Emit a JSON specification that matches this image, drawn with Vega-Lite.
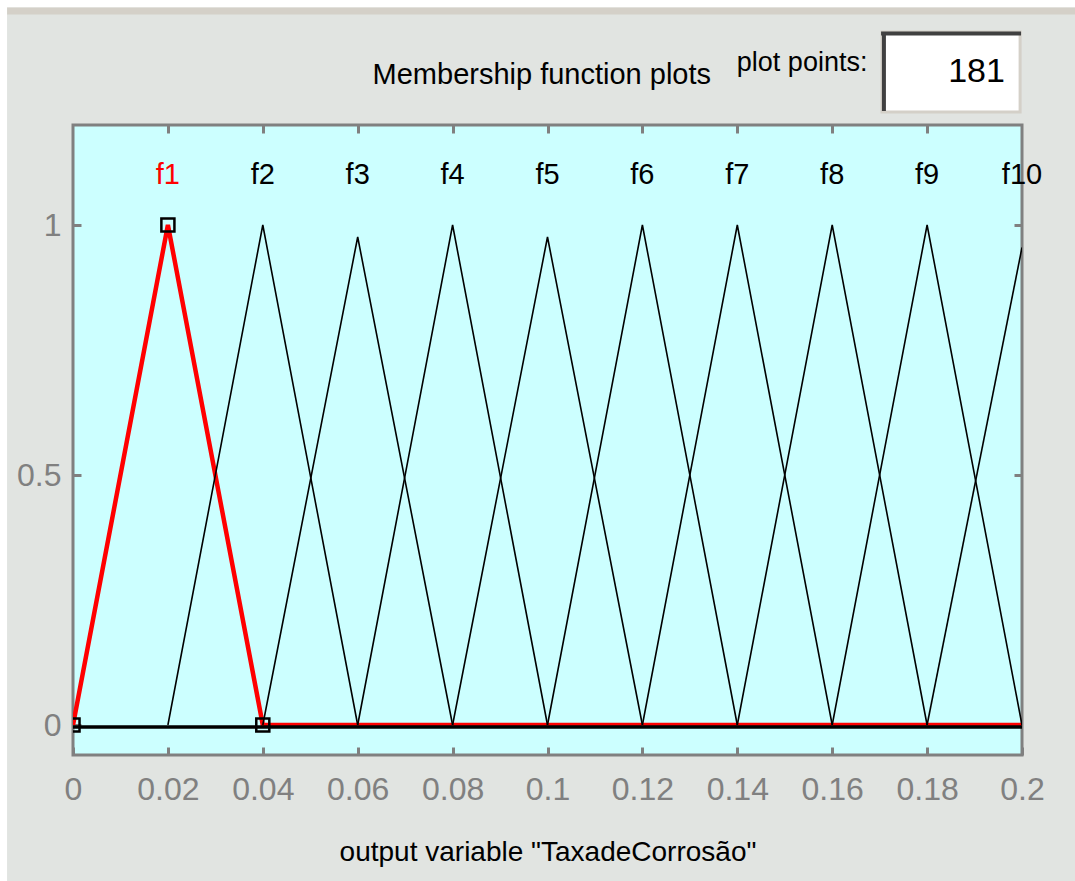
{
  "$schema": "https://vega.github.io/schema/vega-lite/v6.json",
  "autosize": {"type": "none"},
  "width": 949,
  "height": 630,
  "padding": {"left": 73, "top": 125, "right": 53, "bottom": 126},
  "background": "#e1e4e1",
  "view": {"fill": "#ccffff", "stroke": "#808080", "strokeWidth": 3},
  "config": {
    "font": "Liberation Sans",
    "axis": {"domain": false, "grid": false, "labelFlush": false, "labelOverlap": false, "tickColor": "#808080", "tickWidth": 3, "labelColor": "#808080", "labelFont": "Liberation Sans", "labelFontSize": 32, "titleFont": "Liberation Sans", "titleFontWeight": "normal", "titleColor": "#000000", "titleFontSize": 28}
  },
  "datasets": {
    "mf": [
      {"mf": "f1", "x": 0, "y": 0}, {"mf": "f1", "x": 0.02, "y": 1}, {"mf": "f1", "x": 0.04, "y": 0}, {"mf": "f1", "x": 0.2, "y": 0},
      {"mf": "f2", "x": 0.02, "y": 0}, {"mf": "f2", "x": 0.04, "y": 1}, {"mf": "f2", "x": 0.06, "y": 0},
      {"mf": "f3", "x": 0.04, "y": 0}, {"mf": "f3", "x": 0.06, "y": 0.976}, {"mf": "f3", "x": 0.08, "y": 0},
      {"mf": "f4", "x": 0.06, "y": 0}, {"mf": "f4", "x": 0.08, "y": 1}, {"mf": "f4", "x": 0.1, "y": 0},
      {"mf": "f5", "x": 0.08, "y": 0}, {"mf": "f5", "x": 0.1, "y": 0.976}, {"mf": "f5", "x": 0.12, "y": 0},
      {"mf": "f6", "x": 0.1, "y": 0}, {"mf": "f6", "x": 0.12, "y": 1}, {"mf": "f6", "x": 0.14, "y": 0},
      {"mf": "f7", "x": 0.12, "y": 0}, {"mf": "f7", "x": 0.14, "y": 1}, {"mf": "f7", "x": 0.16, "y": 0},
      {"mf": "f8", "x": 0.14, "y": 0}, {"mf": "f8", "x": 0.16, "y": 1}, {"mf": "f8", "x": 0.18, "y": 0},
      {"mf": "f9", "x": 0.16, "y": 0}, {"mf": "f9", "x": 0.18, "y": 1}, {"mf": "f9", "x": 0.2, "y": 0},
      {"mf": "f10", "x": 0.18, "y": 0}, {"mf": "f10", "x": 0.2, "y": 0.955}
    ],
    "labels": [
      {"mf": "f1", "center": 0.02}, {"mf": "f2", "center": 0.04}, {"mf": "f3", "center": 0.06}, {"mf": "f4", "center": 0.08}, {"mf": "f5", "center": 0.1},
      {"mf": "f6", "center": 0.12}, {"mf": "f7", "center": 0.14}, {"mf": "f8", "center": 0.16}, {"mf": "f9", "center": 0.18}, {"mf": "f10", "center": 0.2}
    ],
    "handles": [
      {"x": 0, "y": 0}, {"x": 0.02, "y": 1}, {"x": 0.04, "y": 0}
    ],
    "one": [{}]
  },
  "resolve": {"axis": {"x": "independent", "y": "independent"}},
  "layer": [
    {
      "data": {"name": "one"},
      "mark": {"type": "rect", "fill": "#ffffff", "clip": false},
      "encoding": {
        "x": {"datum": -0.0154, "type": "quantitative", "axis": null},
        "x2": {"datum": 0.2115},
        "y": {"datum": 1.452, "type": "quantitative", "axis": null},
        "y2": {"datum": 1.435}
      }
    },
    {
      "data": {"name": "one"},
      "mark": {"type": "rect", "fill": "#d4d0c8", "clip": false},
      "encoding": {
        "x": {"datum": -0.0139, "type": "quantitative", "axis": null},
        "x2": {"datum": 0.2115},
        "y": {"datum": 1.435, "type": "quantitative", "axis": null},
        "y2": {"datum": 1.421}
      }
    },
    {
      "data": {"name": "one"},
      "mark": {"type": "rect", "fill": "#ffffff", "clip": false},
      "encoding": {
        "x": {"datum": -0.0154, "type": "quantitative", "axis": null},
        "x2": {"datum": -0.0139},
        "y": {"datum": 1.452, "type": "quantitative", "axis": null},
        "y2": {"datum": -0.315}
      }
    },
    {
      "data": {"name": "mf"},
      "transform": [{"filter": "datum.mf === 'f1'"}],
      "mark": {"type": "line", "color": "#ff0000", "strokeWidth": 4.5, "clip": true},
      "encoding": {
        "x": {"field": "x", "type": "quantitative", "scale": {"domain": [0, 0.2], "nice": false, "zero": false},
          "axis": {"orient": "bottom", "values": [0, 0.02, 0.04, 0.06, 0.08, 0.1, 0.12, 0.14, 0.16, 0.18, 0.2], "format": "~g", "tickSize": -8, "labelPadding": 27, "title": "output variable \"TaxadeCorrosão\"", "titlePadding": 33}},
        "y": {"field": "y", "type": "quantitative", "scale": {"domain": [-0.06, 1.2], "nice": false, "zero": false},
          "axis": {"orient": "left", "values": [0, 0.5, 1], "format": "~g", "tickSize": -8, "labelPadding": 20, "title": null}}
      }
    },
    {
      "data": {"name": "mf"},
      "transform": [{"filter": "datum.mf !== 'f1'"}],
      "mark": {"type": "line", "color": "#000000", "strokeWidth": 1.6, "clip": true},
      "encoding": {
        "x": {"field": "x", "type": "quantitative",
          "axis": {"orient": "top", "values": [0.02, 0.04, 0.06, 0.08, 0.1, 0.12, 0.14, 0.16, 0.18], "labels": false, "tickSize": -8, "title": null}},
        "y": {"field": "y", "type": "quantitative",
          "axis": {"orient": "right", "values": [0, 0.5, 1], "labels": false, "tickSize": -8, "title": null}},
        "detail": {"field": "mf"}
      }
    },
    {
      "data": {"name": "one"},
      "mark": {"type": "rule", "color": "#000000", "strokeWidth": 3.5, "yOffset": 2},
      "encoding": {"y": {"datum": 0, "type": "quantitative", "axis": null}}
    },
    {
      "data": {"name": "handles"},
      "mark": {"type": "point", "shape": "square", "filled": false, "color": "#000000", "strokeWidth": 2.5, "size": 170, "opacity": 1, "clip": true},
      "encoding": {
        "x": {"field": "x", "type": "quantitative", "axis": null},
        "y": {"field": "y", "type": "quantitative", "axis": null}
      }
    },
    {
      "data": {"name": "labels"},
      "mark": {"type": "text", "fontSize": 29, "baseline": "middle", "align": "center"},
      "encoding": {
        "x": {"field": "center", "type": "quantitative", "axis": null},
        "y": {"datum": 1.1, "type": "quantitative", "axis": null},
        "text": {"field": "mf"},
        "color": {"condition": {"test": "datum.mf === 'f1'", "value": "#ff0000"}, "value": "#000000"},
        "fontWeight": {"condition": {"test": "datum.mf === 'f1'", "value": "bold"}, "value": "normal"}
      }
    },
    {
      "data": {"name": "one"},
      "mark": {"type": "text", "text": "Membership function plots", "fontSize": 29, "align": "center", "baseline": "middle", "color": "#000000", "clip": false},
      "encoding": {
        "x": {"datum": 0.0988, "type": "quantitative", "axis": null},
        "y": {"datum": 1.3, "type": "quantitative", "axis": null}
      }
    },
    {
      "data": {"name": "one"},
      "mark": {"type": "rect", "fill": "#ffffff", "stroke": "#d4d0c8", "strokeWidth": 3, "clip": false},
      "encoding": {
        "x": {"datum": 0.1705, "type": "quantitative", "axis": null},
        "x2": {"datum": 0.1996},
        "y": {"datum": 1.386, "type": "quantitative", "axis": null},
        "y2": {"datum": 1.226}
      }
    },
    {
      "data": {"name": "one"},
      "mark": {"type": "rule", "color": "#404040", "strokeWidth": 4, "clip": false},
      "encoding": {
        "x": {"datum": 0.1703, "type": "quantitative", "axis": null},
        "x2": {"datum": 0.1998},
        "y": {"datum": 1.383, "type": "quantitative", "axis": null}
      }
    },
    {
      "data": {"name": "one"},
      "mark": {"type": "rule", "color": "#404040", "strokeWidth": 4, "clip": false},
      "encoding": {
        "x": {"datum": 0.1709, "type": "quantitative", "axis": null},
        "y": {"datum": 1.386, "type": "quantitative", "axis": null},
        "y2": {"datum": 1.228}
      }
    },
    {
      "data": {"name": "one"},
      "mark": {"type": "text", "text": "181", "fontSize": 34, "align": "right", "baseline": "middle", "color": "#000000", "clip": false},
      "encoding": {
        "x": {"datum": 0.1964, "type": "quantitative", "axis": null},
        "y": {"datum": 1.306, "type": "quantitative", "axis": null}
      }
    },
    {
      "data": {"name": "one"},
      "mark": {"type": "text", "text": "plot points:", "fontSize": 27, "align": "left", "baseline": "middle", "color": "#000000", "clip": false},
      "encoding": {
        "x": {"datum": 0.1399, "type": "quantitative", "axis": null},
        "y": {"datum": 1.324, "type": "quantitative", "axis": null}
      }
    }
  ]
}
